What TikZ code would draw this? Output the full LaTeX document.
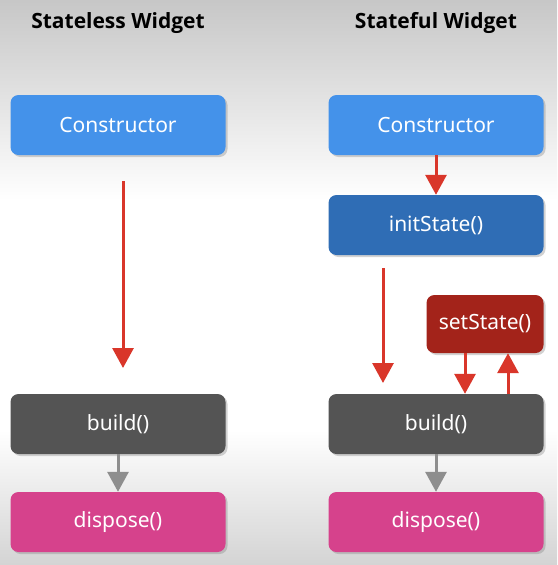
\documentclass[tikz,border=0pt]{standalone}
\usepackage{fontspec}
\setmainfont{Noto Sans}
\newfontfamily\titlefont{Open Sans}
\usetikzlibrary{arrows.meta,shadows}
\definecolor{conblue}{HTML}{4492EA}
\definecolor{initblue}{HTML}{2F6DB5}
\definecolor{setred}{HTML}{A3231A}
\definecolor{buildgray}{HTML}{545454}
\definecolor{disppink}{HTML}{D6428C}
\definecolor{flowred}{HTML}{D9362A}
\definecolor{flowgray}{HTML}{8E8E8E}
\begin{document}
\begin{tikzpicture}
    [x=1pt,y=-1pt,
     box/.style={rounded corners=8pt, minimum width=215pt, minimum height=60pt,
       text=white, font=\fontsize{21}{25}\selectfont,
       drop shadow={opacity=0.35, shadow xshift=2pt, shadow yshift=-2pt}},
     flow/.style={line width=3pt, -{Triangle[width=21pt,length=20pt]}}]
    \tikzstyle{title}=[font=\titlefont\bfseries\fontsize{21}{25}\selectfont]
    \useasboundingbox (0,0) rectangle (557,565);
    \shade[top color=black!22, bottom color=white] (0,0) rectangle (557,200);
    \fill[white] (0,199) rectangle (557,431);
    \shade[top color=white, bottom color=black!17] (0,430) rectangle (557,565);
    % stateless widget
    \draw (118,23) node[title] (LESStitle) {Stateless Widget};
    \draw (118,125) node[box, fill=conblue] (LESScon) {Constructor};
    \draw (118,424) node[box, fill=buildgray] (LESSbuild) {build()};
    \draw (118,522) node[box, fill=disppink] (LESSdisp) {dispose()};
    \coordinate (LESSa) at (123,181);
    \coordinate (LESSb) at (123,368);
    \draw[flow, flowred] (LESSa) -- (LESSb);
    \draw[flow, flowgray] (LESSbuild) -- (LESSdisp);
    % stateful widget
    \draw (436,23) node[title] (FULLtitle) {Stateful Widget};
    \draw (436,125) node[box, fill=conblue] (FULLcon) {Constructor};
    \draw (436,225) node[box, fill=initblue] (FULLinit) {initState()};
    \draw (485,324) node[box, fill=setred, minimum width=117pt, minimum height=58pt] (FULLset) {setState()};
    \draw (436,424) node[box, fill=buildgray] (FULLbuild) {build()};
    \draw (436,522) node[box, fill=disppink] (FULLdisp) {dispose()};
    \coordinate (FULLa) at (383,268);
    \coordinate (FULLb) at (383,383);
    \draw[flow, flowred] (FULLcon) -- (FULLinit);
    \draw[flow, flowred] (FULLa) -- (FULLb);
    \draw[flow, flowred] ([xshift=-20pt]FULLset.south) -- ([xshift=29pt]FULLbuild.north);
    \draw[flow, flowred] ([xshift=72pt]FULLbuild.north) -- ([xshift=23pt]FULLset.south);
    \draw[flow, flowgray] (FULLbuild) -- (FULLdisp);
\end{tikzpicture}
\end{document}
